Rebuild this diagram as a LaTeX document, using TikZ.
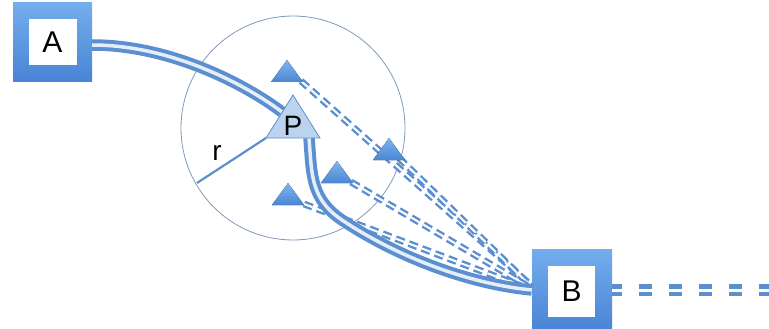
\documentclass[tikz,border=0pt]{standalone}
\usepackage{fontspec}
\setmainfont{Liberation Sans}
\definecolor{lb}{HTML}{5B8FCF}
\definecolor{gapc}{HTML}{E4EEF9}
\definecolor{boxtop}{HTML}{74AEEE}
\definecolor{boxbot}{HTML}{4884D4}
\definecolor{tritop}{HTML}{7FB5F0}
\definecolor{tribot}{HTML}{4A86D2}
\definecolor{pfill}{HTML}{BCD3F0}
\definecolor{circ}{HTML}{8099BA}
\newcommand\mytri[3]{%
  \coordinate (#1) at (#2,#3);
  \fill[tri] (#1) -- ++(-16,22) coordinate (#1l) -- ++(32,0) coordinate (#1r) -- cycle;}
\begin{document}
\begin{tikzpicture}[x=1pt,y=-1pt,
  conn/.style={draw=lb, line width=4pt, double=gapc, double distance=3.5pt},
  dconn/.style={draw=lb, line width=2.4pt, double=white, double distance=2pt, dash pattern=on 9pt off 5pt},
  outerbox/.style={rectangle, top color=boxtop, bottom color=boxbot, draw=none, inner sep=0pt},
  innerbox/.style={rectangle, fill=white, inner sep=0pt, font=\fontsize{30}{30}\selectfont},
  tri/.style={top color=tritop, bottom color=tribot, draw=none}]
\useasboundingbox (0,0) rectangle (769,329);
% circle and radius
\node[circle, draw=circ, line width=0.8pt, minimum size=224pt, inner sep=0pt] (C) at (293,128) {};
\coordinate (Pa) at (293,95);
\coordinate (Pl) at (266,138);
\coordinate (Pr) at (320,138);
\coordinate (R) at (197,183);
\draw[lb, line width=2.2pt] (Pl) -- (R);
\node[anchor=base, font=\fontsize{28}{28}\selectfont] (r) at (217,160) {r};
% boxes
\node[outerbox, minimum width=79pt, minimum height=79pt] (A) at (52.5,42.5) {};
\node[innerbox, minimum width=48pt, minimum height=46pt] (Ai) at (A.center) {A};
\node[outerbox, minimum width=80pt, minimum height=82pt] (B) at (572,290) {};
\node[innerbox, minimum width=47pt, minimum height=51pt] (Bi) at (571.5,291.5) {B};
% triangle positions
\coordinate (T1s) at (301,81);
\coordinate (T2s) at (399,158);
\coordinate (T3s) at (351,182);
\coordinate (T4s) at (304,204);
% dashed connectors
\draw[dconn] (T1s) -- ([yshift=4pt]B.west);
\draw[dconn] (T2s) -- ([yshift=3pt]B.west);
\draw[dconn] (T3s) -- ([yshift=1.5pt]B.west);
\draw[dconn] (T4s) -- ([yshift=0pt]B.west);
% small triangles
\mytri{T1}{287}{60}
\mytri{T2}{389}{138}
\mytri{T3}{337}{161}
\mytri{T4}{288}{183}
% solid connectors
\coordinate (Pin) at (282,112);
\coordinate (Pout) at (309,138);
\coordinate (Pmid) at (345,222);
\draw[conn] ([yshift=-2.5pt]A.east) .. controls (170,45) and (245,84) .. (Pin);
\draw[conn] (Pout) .. controls (312,175) and (310,200) .. (Pmid)
  .. controls (400,258) and (470,284) .. (B.west);
\coordinate (Bend) at (780,290);
\draw[conn, line width=4.5pt, double=white, double distance=3pt, dash pattern=on 13pt off 17pt, dash phase=3pt] (B.east) -- (Bend);
% P triangle
\filldraw[fill=pfill, draw=lb, line width=0.8pt] (Pa) -- (Pl) -- (Pr) -- cycle;
\node[anchor=base, font=\fontsize{28}{28}\selectfont, inner sep=0pt] (P) at (293,135.5) {P};
\end{tikzpicture}
\end{document}
